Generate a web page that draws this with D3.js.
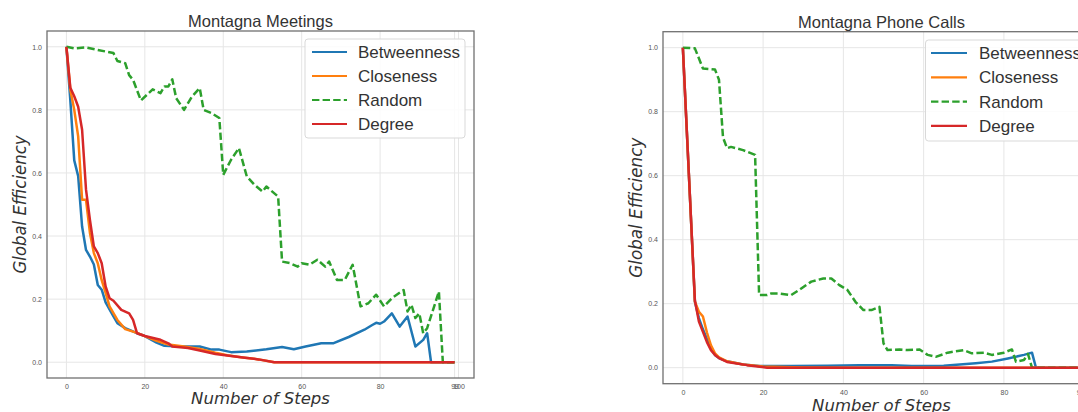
<!DOCTYPE html>
<html>
<head>
<meta charset="utf-8">
<script src="https://cdn.jsdelivr.net/npm/d3@7"></script>
<style>
  body { margin: 0; background: #fff; }
  svg { display: block; }
</style>
</head>
<body>
<div id="charts"></div>
<script>
// Series as [step, global efficiency].
var meetingsBetweenness = [[0,1.0],[1,0.83],[2,0.64],[3,0.59],[4,0.43],[5,0.356],[6,0.335],[7,0.31],
  [8,0.245],[9,0.23],[10,0.19],[12,0.145],[13,0.124],[15,0.108],[18,0.092],[20,0.083],[23,0.062],
  [25,0.052],[29,0.05],[34,0.05],[37,0.04],[39,0.04],[42,0.032],[46,0.034],[51,0.041],[55,0.048],
  [58,0.041],[61,0.05],[65,0.06],[68,0.06],[72,0.08],[76,0.103],[78,0.118],[79,0.125],[80,0.122],
  [81,0.129],[83,0.155],[85,0.113],[87,0.145],[89,0.05],[91,0.071],[92,0.092],[93,0],[99,0]];
var meetingsCloseness = [[0,1.0],[1,0.864],[2,0.80],[3,0.716],[4,0.515],[5,0.515],[6,0.41],[7,0.346],
  [8,0.314],[9,0.26],[10,0.22],[11,0.177],[13,0.134],[15,0.105],[18,0.093],[20,0.083],[23,0.068],
  [26,0.056],[30,0.05],[34,0.042],[38,0.03],[41,0.022],[45,0.015],[49,0.009],[53,0],[99,0]];
var meetingsRandom = [[0,1.0],[2,0.995],[5,0.998],[8,0.99],[12,0.98],[13,0.955],[15,0.948],[16,0.91],
  [17,0.895],[19,0.83],[22,0.865],[24,0.853],[25,0.874],[26,0.874],[27,0.897],[28,0.837],[30,0.80],
  [32,0.842],[34,0.869],[35,0.80],[37,0.79],[39,0.774],[40,0.594],[42,0.642],[44,0.679],[46,0.589],
  [48,0.562],[50,0.541],[51,0.557],[54,0.525],[55,0.319],[57,0.314],[59,0.303],[60,0.314],[62,0.309],
  [64,0.325],[66,0.303],[67,0.319],[69,0.261],[71,0.261],[73,0.309],[75,0.177],[77,0.187],[79,0.214],
  [81,0.177],[83,0.203],[86,0.229],[87,0.161],[88,0.182],[89,0.14],[90,0.155],[91,0.092],[92,0.108],
  [95,0.224],[96,0],[99,0]];
var meetingsDegree = [[0,1.0],[1,0.87],[2,0.843],[3,0.81],[4,0.737],[5,0.547],[6,0.451],[7,0.367],
  [8,0.346],[9,0.314],[10,0.24],[11,0.203],[12,0.195],[14,0.166],[16,0.155],[17,0.134],[18,0.092],
  [20,0.083],[24,0.071],[26,0.06],[27,0.05],[31,0.045],[34,0.037],[38,0.026],[41,0.021],[45,0.015],
  [49,0.009],[53,0],[99,0]];

var callsBetweenness = [[0,1.0],[3,0.206],[4,0.155],[5,0.12],[6,0.09],[7,0.06],[8,0.04],[9,0.03],
  [11,0.02],[15,0.01],[19,0.005],[27,0.005],[36,0.006],[44,0.008],[52,0.008],[57,0.005],[65,0.006],
  [73,0.014],[77,0.019],[81,0.029],[85,0.04],[87,0.047],[88,0],[99,0]];
var callsCloseness = [[0,1.0],[3,0.206],[4,0.175],[5,0.16],[6,0.11],[7,0.07],[8,0.045],[9,0.032],
  [11,0.02],[15,0.01],[20,0.004],[25,0.002],[30,0.001],[40,0],[99,0]];
var callsRandom = [[0,1.0],[3,0.998],[5,0.935],[8,0.932],[9,0.9],[10,0.72],[11,0.686],[12,0.69],
  [15,0.68],[18,0.665],[19,0.227],[21,0.227],[22,0.232],[24,0.232],[27,0.227],[29,0.243],[32,0.269],
  [35,0.279],[37,0.279],[39,0.258],[41,0.243],[43,0.206],[45,0.18],[47,0.18],[49,0.19],[50,0.076],
  [51,0.055],[54,0.057],[56,0.055],[59,0.057],[61,0.04],[63,0.034],[66,0.047],[70,0.055],[72,0.045],
  [75,0.047],[77,0.04],[80,0.047],[82,0.057],[83,0.019],[85,0.024],[86,0.043],[87,0],[99,0]];
var callsDegree = [[0,1.0],[3,0.21],[4,0.144],[6,0.08],[7,0.055],[8,0.04],[9,0.03],[11,0.018],
  [16,0.008],[21,0],[99,0]];

var seriesNames = ['Betweenness', 'Closeness', 'Random', 'Degree'];
var xTicks = [0, 20, 40, 60, 80, 99, 100];
var yTicks = [0.0, 0.2, 0.4, 0.6, 0.8, 1.0];

var colors = { Betweenness: '#1f77b4', Closeness: '#ff7f0e', Random: '#2ca02c', Degree: '#d62728' };

var svg = d3.select('#charts').append('svg')
    .attr('width', 1078)
    .attr('height', 412);

// Frame boxes measured on the reference; the second one runs past the right edge.
var panels = [
  { title: 'Montagna Meetings',
    series: [meetingsBetweenness, meetingsCloseness, meetingsRandom, meetingsDegree],
    box: { x: 47, y: 31, w: 427, h: 347 },
    legend: { x: 305, y: 39, w: 160, h: 99, lineX: 312, lineW: 35, textX: 358, rowY: 52, rowH: 24 },
    titleY: 27, xLabelY: 404, yLabelX: 26, yLabelLen: 138 },
  { title: 'Montagna Phone Calls',
    series: [callsBetweenness, callsCloseness, callsRandom, callsDegree],
    box: { x: 663, y: 31.7, w: 437, h: 352 },
    legend: { x: 925.5, y: 40, w: 170, h: 101, lineX: 931, lineW: 36, textX: 979, rowY: 53, rowH: 24.3 },
    titleY: 27.5, xLabelY: 411, yLabelX: 642, yLabelLen: 140 }
];

panels.forEach(function(p) {
  var b = p.box;
  var x = d3.scaleLinear().domain([-4.95, 103.95]).range([b.x, b.x + b.w]);
  var y = d3.scaleLinear().domain([-0.05, 1.05]).range([b.y + b.h, b.y]);
  var g = svg.append('g');

  // grid
  g.append('g').selectAll('line').data(xTicks).enter().append('line')
      .attr('x1', function(d) { return x(d); }).attr('x2', function(d) { return x(d); })
      .attr('y1', b.y).attr('y2', b.y + b.h)
      .attr('stroke', '#e6e6e6').attr('stroke-width', 1);
  g.append('g').selectAll('line').data(yTicks).enter().append('line')
      .attr('x1', b.x).attr('x2', b.x + b.w)
      .attr('y1', function(d) { return y(d); }).attr('y2', function(d) { return y(d); })
      .attr('stroke', '#e6e6e6').attr('stroke-width', 1);

  // axes (labels only, seaborn whitegrid has no tick marks)
  var xAxis = g.append('g').attr('transform', 'translate(0,' + (b.y + b.h) + ')')
      .call(d3.axisBottom(x).tickValues(xTicks).tickSize(0).tickPadding(6)
          .tickFormat(d3.format('d')));
  var yAxis = g.append('g').attr('transform', 'translate(' + b.x + ',0)')
      .call(d3.axisLeft(y).tickValues(yTicks).tickSize(0).tickPadding(5)
          .tickFormat(d3.format('.1f')));
  [xAxis, yAxis].forEach(function(a) {
    a.select('.domain').remove();
    a.selectAll('text').attr('fill', '#555').attr('font-size', 7)
        .attr('font-family', 'Liberation Sans, Arial, sans-serif');
  });

  // lines
  var line = d3.line()
      .x(function(d) { return x(d[0]); })
      .y(function(d) { return y(d[1]); });
  p.series.forEach(function(s, i) {
    var name = seriesNames[i];
    g.append('path').datum(s)
        .attr('d', line)
        .attr('fill', 'none')
        .attr('stroke', colors[name])
        .attr('stroke-width', 2.5)
        .attr('stroke-linejoin', 'round')
        .attr('stroke-dasharray', name === 'Random' ? '7.4,3.2' : null);
  });

  // frame
  g.append('rect')
      .attr('x', b.x).attr('y', b.y).attr('width', b.w).attr('height', b.h)
      .attr('fill', 'none').attr('stroke', '#707070').attr('stroke-width', 1.3);

  // legend
  var L = p.legend;
  var lg = g.append('g');
  lg.append('rect')
      .attr('x', L.x).attr('y', L.y).attr('width', L.w).attr('height', L.h)
      .attr('rx', 3).attr('fill', '#fff').attr('fill-opacity', 0.85)
      .attr('stroke', '#d9d9d9').attr('stroke-width', 1);
  seriesNames.forEach(function(name, i) {
    var ry = L.rowY + i * L.rowH;
    lg.append('line')
        .attr('x1', L.lineX).attr('x2', L.lineX + L.lineW)
        .attr('y1', ry).attr('y2', ry)
        .attr('stroke', colors[name]).attr('stroke-width', 2.2)
        .attr('stroke-dasharray', name === 'Random' ? '7.4,3.2' : null);
    lg.append('text')
        .attr('x', L.textX).attr('y', ry + 6)
        .attr('font-family', 'Liberation Sans, Arial, sans-serif')
        .attr('font-size', 17).attr('fill', '#333')
        .text(name);
  });

  // titles
  var cx = x(49.5);
  g.append('text')
      .attr('x', cx).attr('y', p.titleY)
      .attr('text-anchor', 'middle')
      .attr('font-family', 'Liberation Sans, Arial, sans-serif')
      .attr('font-size', 16.5).attr('fill', '#333')
      .text(p.title);
  g.append('text')
      .attr('x', cx).attr('y', p.xLabelY)
      .attr('text-anchor', 'middle')
      .attr('font-family', 'DejaVu Sans, sans-serif')
      .attr('font-style', 'italic')
      .attr('font-size', 16.5).attr('fill', '#333')
      .text('Number of Steps');
  // the reference's y label is stretched along its length
  g.append('text')
      .attr('transform', 'translate(' + p.yLabelX + ',' + y(0.5) + ') rotate(-90)')
      .attr('text-anchor', 'middle')
      .attr('font-family', 'DejaVu Sans, sans-serif')
      .attr('font-style', 'italic')
      .attr('font-size', 17).attr('fill', '#333')
      .attr('textLength', p.yLabelLen)
      .attr('lengthAdjust', 'spacingAndGlyphs')
      .text('Global Efficiency');
});
</script>
</body>
</html>
